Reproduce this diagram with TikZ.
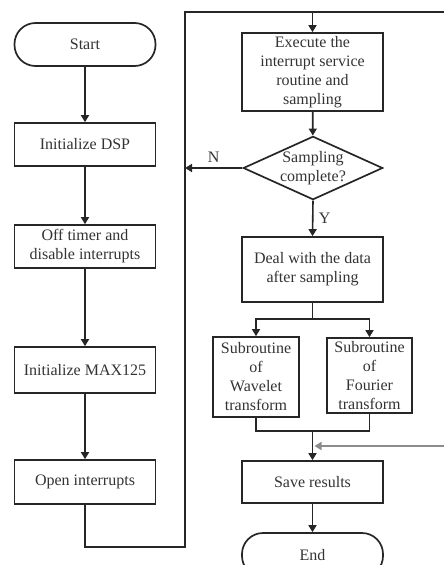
\documentclass[tikz,border=0pt]{standalone}
\usepackage{fontspec}
\setmainfont{Liberation Serif}
\usetikzlibrary{arrows.meta,shapes.geometric}

\begin{document}
\begin{tikzpicture}[
  x=1pt, y=-1pt,
  font=\fontsize{16}{19}\selectfont,
  every node/.style={text=black!80},
  box/.style={draw=black!85, line width=1.7pt, align=center, inner sep=0pt,
    minimum width=141pt, minimum height=43pt},
  term/.style={box, rounded corners=21pt},
  decide/.style={draw=black!85, line width=1.7pt, diamond, align=center,
    inner sep=0pt, shape aspect=2.2},
  line/.style={line width=1.6pt, draw=black!85},
  flow/.style={line, -{Triangle[length=7pt,width=8pt]}}
]
  \useasboundingbox (0,0) rectangle (444,565);

  % left column
  \node[term] (start) at (85,44.5) {Start};
  \node[box] (dsp) at (85,144.5) {Initialize DSP};
  \node[box] (timer) at (85,246.5) {Off timer and\\disable interrupts};
  \node[box, minimum height=46pt] (max) at (85,370) {Initialize MAX125};
  \node[box, minimum height=44pt] (open) at (85,482) {Open interrupts};
  \draw[flow] (start) -- (dsp);
  \draw[flow] (dsp) -- (timer);
  \draw[flow] (timer) -- (max);
  \draw[flow] (max) -- (open);

  % right column
  \node[box, minimum height=78pt] (exec) at (312.5,72)
    {Execute the\\interrupt service\\routine and\\sampling};
  \node[decide] (samp) at (313,168) {Sampling\\complete?};
  \node[box, minimum height=65pt] (deal) at (312.5,269.5)
    {Deal with the data\\after sampling};
  \node[box, minimum width=86pt, minimum height=80pt] (wave) at (256,377)
    {Subroutine\\of\\Wavelet\\transform};
  \node[box, minimum width=85pt, minimum height=75pt] (four) at (369.5,375.5)
    {Subroutine\\of\\Fourier\\transform};
  \node[box, minimum height=42pt] (save) at (312.5,482) {Save results};
  \node[term, minimum height=44pt] (end) at (312.5,555) {End};

  % loop back
  \coordinate (bot) at (185,547);
  \coordinate (top) at (185,12);
  \coordinate (edge) at (450,12);
  \draw[line] (open.south) |- (bot) -- (top) -- (edge);
  \draw[flow] (exec.north |- top) -- (exec);
  \draw[flow] (exec) -- (samp);
  \draw[flow] (samp.west) -- (bot |- samp.west)
    node[midway, above=1pt] (no) {N};
  \draw[flow] (samp.south) -- (deal.north)
    node[midway, right=2pt] (yes) {Y};

  % branches
  \coordinate (split) at (312.5,319);
  \coordinate (merge) at (312.5,431);
  \draw[line] (deal.south) -- (split);
  \draw[flow] (split) -| (wave.north);
  \draw[flow] (split) -| (four.north);
  \draw[line] (wave.south) |- (merge) -| (four.south);
  \draw[flow] (merge) -- (save);
  \coordinate (ret) at (450,446);
  \draw[flow, draw=black!45] (ret) -- ([xshift=2pt]save.north |- ret);
  \draw[flow] (save) -- (end);
\end{tikzpicture}
\end{document}
